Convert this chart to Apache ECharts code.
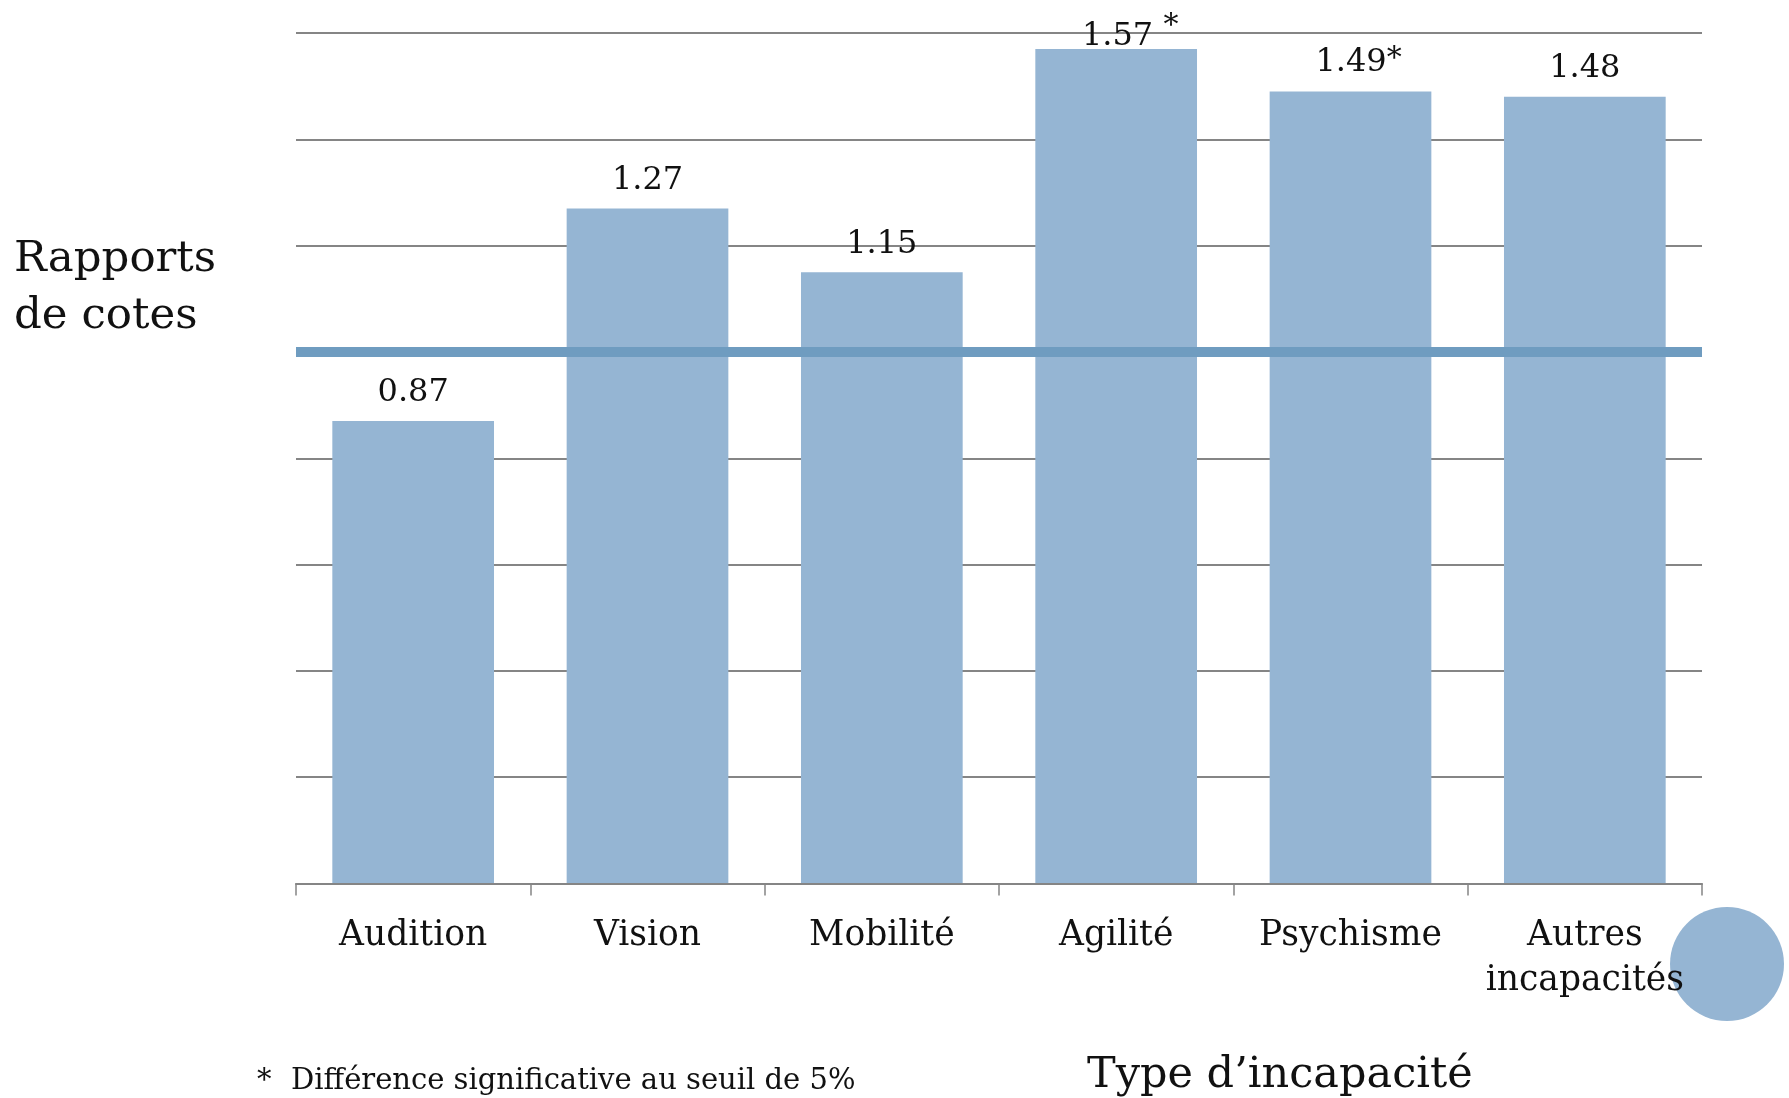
<!DOCTYPE html>
<html>
<head>
<meta charset="utf-8">
<script src="https://cdn.jsdelivr.net/npm/echarts@6/dist/echarts.min.js"></script>
<style>
  html, body { margin: 0; padding: 0; background: #fff; }
  #chart { width: 1789px; height: 1098px; }
</style>
</head>
<body>
<div id="chart"></div>
<script>
// Odds ratios by type of disability
const categories = ['Audition', 'Vision', 'Mobilité', 'Agilité', 'Psychisme', 'Autres\nincapacités'];
const oddsRatios = [0.87, 1.27, 1.15, 1.57, 1.49, 1.48];
const significant = [false, false, false, true, true, false];
const referenceRatio = 1.0;

const SERIF = '"DejaVu Serif", "Liberation Serif", serif';
const BAR_COLOR = '#95b5d3';
const REF_COLOR = '#6f9cc0';
const GRID_COLOR = '#858585';

// label layout tweaks for the starred values (space before star, nudges)
const starLayout = {
  3: { gap: ' ', offset: [14, 26], starPad: 22 },
  4: { gap: '', offset: [8, 1], starPad: 6 }
};

const barData = oddsRatios.map((v, i) => {
  const item = { value: v };
  if (significant[i]) {
    const lay = starLayout[i] || { gap: '', offset: [8, 0], starPad: 6 };
    item.label = {
      formatter: '{n|' + v.toFixed(2) + '}{n|' + lay.gap + '}{s|*}',
      offset: lay.offset,
      rich: {
        n: { fontFamily: SERIF, fontSize: 32, color: '#111' },
        s: { fontFamily: SERIF, fontSize: 30, color: '#111', padding: [0, 0, lay.starPad, 0] }
      }
    };
  }
  return item;
});

const chart = echarts.init(document.getElementById('chart'));
chart.setOption({
  animation: false,
  backgroundColor: '#fff',
  grid: { left: 296, right: 87, top: 33, bottom: 214.5, containLabel: false },
  xAxis: {
    type: 'category',
    data: categories,
    boundaryGap: true,
    axisLine: { show: true, lineStyle: { color: GRID_COLOR, width: 2 } },
    axisTick: { show: true, length: 12, lineStyle: { color: GRID_COLOR, width: 1.5 } },
    axisLabel: {
      margin: 30,
      fontFamily: SERIF,
      fontSize: 34.5,
      lineHeight: 45,
      color: '#111',
      interval: 0
    },
    z: 3
  },
  yAxis: {
    type: 'value',
    min: 0,
    max: 1.6,
    interval: 0.2,
    axisLine: { show: false },
    axisTick: { show: false },
    axisLabel: { show: false },
    splitLine: { show: true, lineStyle: { color: GRID_COLOR, width: 2 } }
  },
  series: [{
    type: 'bar',
    data: barData,
    barCategoryGap: '31%',
    itemStyle: { color: BAR_COLOR },
    label: {
      show: true,
      position: 'top',
      distance: 12,
      fontFamily: SERIF,
      fontSize: 32,
      color: '#111',
      formatter: p => p.value.toFixed(2)
    },
    markLine: {
      silent: true,
      symbol: 'none',
      label: { show: false },
      lineStyle: { color: REF_COLOR, width: 10, type: 'solid' },
      data: [{ yAxis: referenceRatio }],
      z: 5
    }
  }],
  graphic: [
    {
      type: 'circle',
      z: -1,
      shape: { cx: 1727, cy: 964, r: 57 },
      style: { fill: BAR_COLOR }
    },
    {
      type: 'text',
      left: 14,
      top: 231,
      style: {
        text: 'Rapports\nde cotes',
        fontFamily: SERIF,
        fontSize: 43.5,
        lineHeight: 57,
        fill: '#111'
      }
    },
    {
      type: 'text',
      left: 1087,
      top: 1052,
      style: {
        text: 'Type d\u2019incapacité',
        fontFamily: SERIF,
        fontSize: 43,
        lineHeight: 48,
        fill: '#111'
      }
    },
    {
      type: 'text',
      left: 257,
      top: 1065,
      style: {
        text: '*',
        fontFamily: SERIF,
        fontSize: 29,
        lineHeight: 32,
        fill: '#111'
      }
    },
    {
      type: 'text',
      left: 291,
      top: 1065,
      style: {
        text: 'Différence significative au seuil de 5%',
        fontFamily: SERIF,
        fontSize: 29,
        lineHeight: 32,
        fill: '#111'
      }
    }
  ]
});
</script>
</body>
</html>
